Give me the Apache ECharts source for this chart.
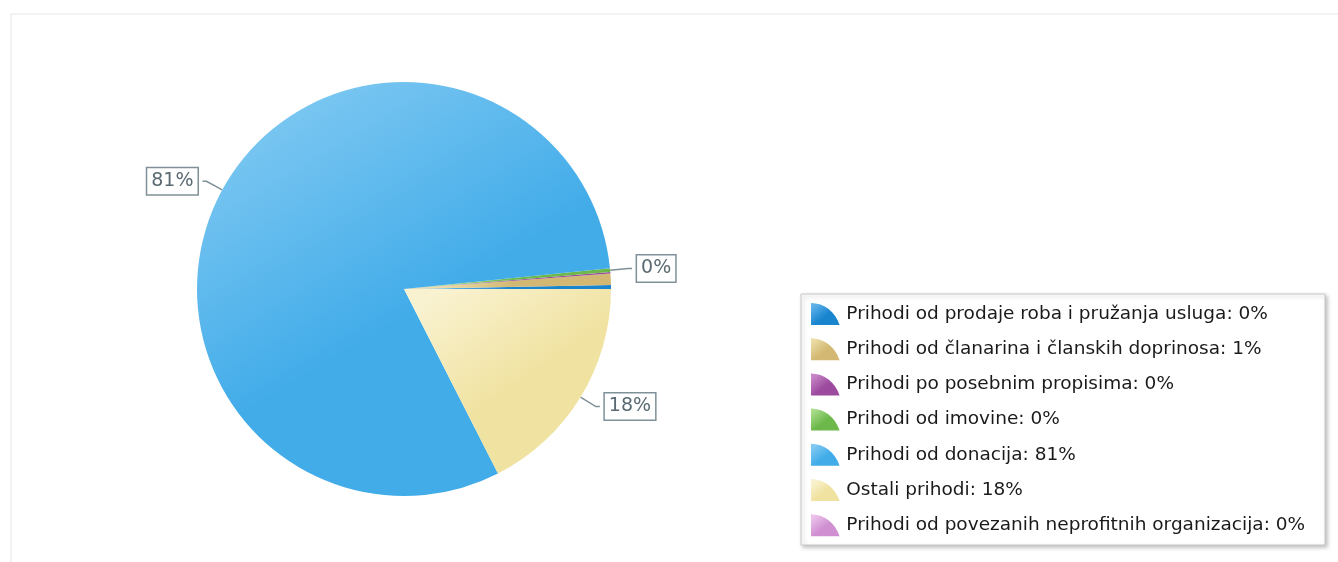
<!DOCTYPE html>
<html>
<head>
<meta charset="utf-8">
<script src="https://cdn.jsdelivr.net/npm/echarts@6/dist/echarts.min.js"></script>
<style>
html,body{margin:0;padding:0;background:#fff;}
#c{width:1338px;height:562px;}
</style>
</head>
<body>
<div id="c"></div>
<script>
var categories = [
  'Prihodi od prodaje roba i pružanja usluga',
  'Prihodi od članarina i članskih doprinosa',
  'Prihodi po posebnim propisima',
  'Prihodi od imovine',
  'Prihodi od donacija',
  'Ostali prihodi',
  'Prihodi od povezanih neprofitnih organizacija'
];
var values = [0.3, 0.9, 0.1, 0.3, 80.9, 17.5, 0.0];
var colorsDark  = ['#1a85cf', '#d2b872', '#9c4a9e', '#6cb84a', '#42ace9', '#f0e2a0', '#cf8fd0'];
var colorsLight = ['#5fb3ea', '#ecdca6', '#c887c8', '#a8dc8a', '#80c9f2', '#f9f2d0', '#ecc2ec'];

var total = values.reduce(function(a,b){return a+b;}, 0);
function pct(i){ return Math.round(values[i] / total * 100); }

var chart = echarts.init(document.getElementById('c'));
var data = categories.map(function(n, i){
  return {
    name: n,
    value: values[i],
    itemStyle: {
      color: {
        type: 'linear', x: 0.2, y: 0, x2: 0.8, y2: 1,
        colorStops: [{offset: 0, color: colorsLight[i]}, {offset: 0.55, color: colorsDark[i]}, {offset: 1, color: colorsDark[i]}]
      }
    }
  };
});

var iconPath = 'path://M0,20 L0,0 C12,0 22,8 26,20 Z';

chart.setOption({
  animation: false,
  backgroundColor: '#ffffff',
  graphic: [
    {type: 'rect', shape: {x: 11, y: 14, width: 1330, height: 560}, style: {fill: 'none', stroke: '#e6e6e6', lineWidth: 1}, silent: true},
    {type: 'rect', shape: {x: 801, y: 294, width: 524, height: 251}, style: {fill: '#fff', stroke: '#c8c8c8', lineWidth: 1, shadowBlur: 4, shadowOffsetX: 2, shadowOffsetY: 2, shadowColor: 'rgba(0,0,0,0.25)'}, silent: true, z: -1}
  ],
  legend: {
    orient: 'vertical',
    left: 806,
    top: 298,
    itemWidth: 32,
    itemHeight: 22,
    itemGap: 13.2,
    icon: iconPath,
    data: categories,
    textStyle: {fontFamily: 'DejaVu Sans', fontSize: 18.5, color: '#1a1a1a'},
    formatter: function(name){
      var i = categories.indexOf(name);
      return name + ': ' + pct(i) + '%';
    }
  },
  series: [{
    type: 'pie',
    center: [404, 289],
    radius: 207,
    startAngle: 0,
    clockwise: false,
    avoidLabelOverlap: false,
    percentPrecision: 0,
    data: data,
    itemStyle: {borderWidth: 0},
    label: {
      show: true,
      formatter: '{d}%',
      fontFamily: 'DejaVu Sans',
      fontSize: 19,
      color: '#5a6a72',
      backgroundColor: '#ffffff',
      borderColor: '#7f9098',
      borderWidth: 1.5,
      padding: [4, 4, 3, 4]
    },
    labelLine: {show: true, length: 18, length2: 4, lineStyle: {color: '#7f9098', width: 1.5}},
    emphasis: {disabled: true}
  }]
});
</script>
</body>
</html>
